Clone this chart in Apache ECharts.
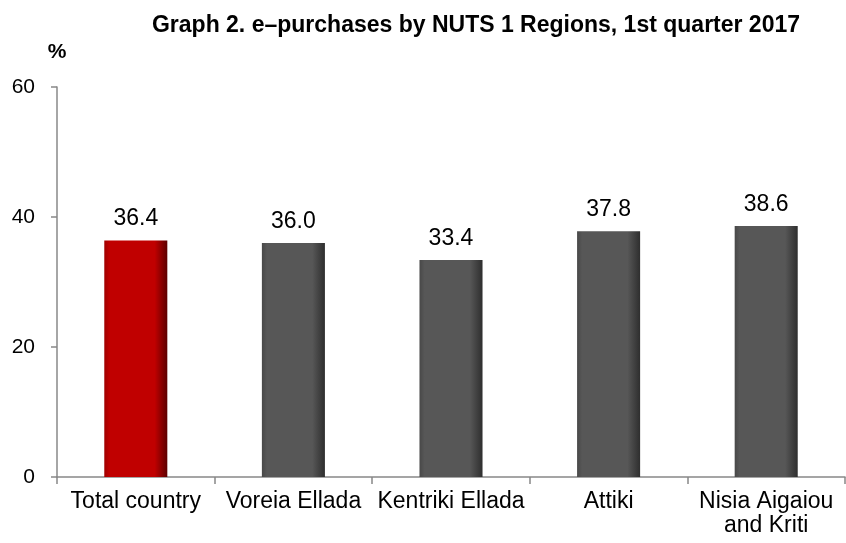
<!DOCTYPE html>
<html>
<head>
<meta charset="utf-8">
<script src="https://cdn.jsdelivr.net/npm/echarts@6/dist/echarts.min.js"></script>
<style>
  html, body { margin: 0; padding: 0; background: #fff; }
  #chart { width: 846px; height: 543px; }
</style>
</head>
<body>
<div id="chart"></div>
<script>
// e-purchases by NUTS 1 region, 1st quarter 2017 (%)
const regions = ["Total country", "Voreia Ellada", "Kentriki Ellada", "Attiki", "Nisia Aigaiou\nand Kriti"];
const shares = [36.4, 36.0, 33.4, 37.8, 38.6];
const yTicks = [0, 20, 40, 60];

function barFill(base, edge, dark) {
  return new echarts.graphic.LinearGradient(0, 0, 1, 0, [
    { offset: 0, color: edge },
    { offset: 0.08, color: base },
    { offset: 0.8, color: base },
    { offset: 1, color: dark },
  ]);
}

const chart = echarts.init(document.getElementById("chart"));
const option = {
  animation: false,
  textStyle: { fontFamily: "Liberation Sans, Arial, sans-serif" },
  title: {
    text: "Graph 2. e\u2013purchases by NUTS 1 Regions, 1st quarter 2017",
    left: 471,
    top: 9,
    textAlign: "center",
    textStyle: { fontSize: 23, fontWeight: "bold", color: "#000" },
  },
  grid: { left: 57, right: 1, top: 87, bottom: 66, containLabel: false },
  xAxis: {
    type: "category",
    data: regions,
    axisLine: { lineStyle: { color: "#888", width: 1.5 } },
    axisTick: { show: true, length: 7, lineStyle: { color: "#888", width: 1.5 } },
    axisLabel: { color: "#000", fontSize: 23, lineHeight: 24, margin: 13, interval: 0 },
  },
  yAxis: {
    type: "value",
    min: yTicks[0],
    max: yTicks[yTicks.length - 1],
    interval: 20,
    name: "%",
    nameLocation: "end",
    nameGap: 24,
    nameTextStyle: { fontSize: 21, fontWeight: "bold", color: "#000", align: "center" },
    splitLine: { show: false },
    axisLine: { show: true, lineStyle: { color: "#888", width: 1.5 } },
    axisTick: { show: true, length: 6, lineStyle: { color: "#888", width: 1.5 } },
    axisLabel: { color: "#000", fontSize: 21, margin: 22 },
  },
  series: [
    {
      type: "bar",
      barWidth: "40%",
      data: shares.map(function (v, i) {
        return {
          value: v,
          itemStyle: {
            color: i === 0
              ? barFill("#c00000", "#a00000", "#5c0000")
              : barFill("#575757", "#484848", "#2e2e2e"),
          },
        };
      }),
      label: {
        show: true,
        position: "top",
        distance: 10,
        fontSize: 23,
        color: "#000",
        formatter: function (p) { return p.value.toFixed(1); },
      },
    },
  ],
};
chart.setOption(option);
</script>
</body>
</html>
